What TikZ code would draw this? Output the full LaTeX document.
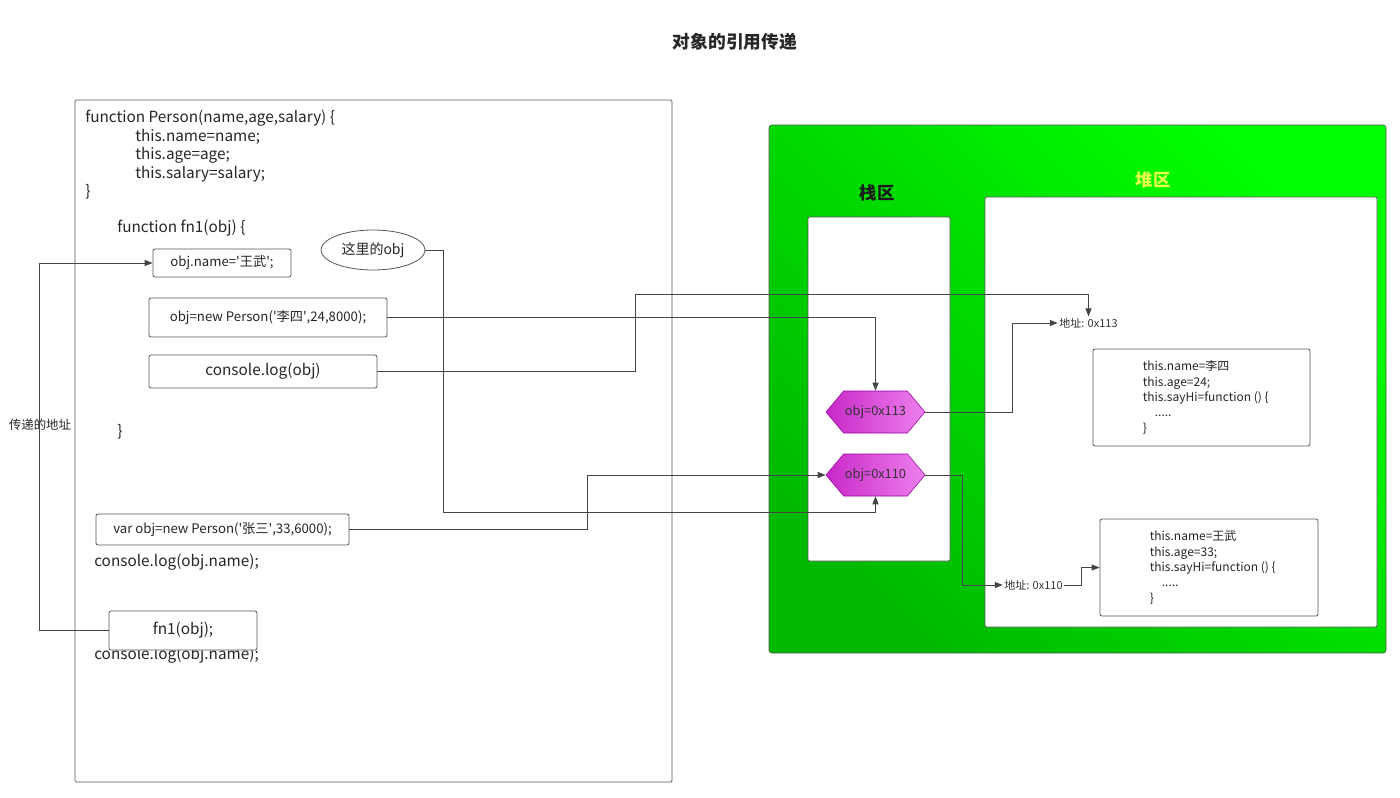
\documentclass[tikz,border=0pt]{standalone}
\usepackage{fontspec}
\setmainfont{Noto Sans CJK SC}
\usetikzlibrary{arrows.meta, positioning, shapes.geometric, shapes.symbols}

\definecolor{linegray}{HTML}{444444}
\definecolor{boxgray}{HTML}{555555}
\definecolor{zonedark}{RGB}{0,185,0}
\definecolor{zonelight}{RGB}{0,255,0}
\definecolor{heaptitle}{RGB}{228,255,70}
\definecolor{hexdark}{RGB}{200,40,200}
\definecolor{hexlight}{RGB}{238,128,238}
\definecolor{hexedge}{RGB}{150,0,160}

\begin{document}
\begin{tikzpicture}[
    x=0.75pt, y=-0.75pt,
    font=\fontsize{11.5}{14}\selectfont,
    code/.style={anchor=west, inner sep=0pt, text=black!85},
    box/.style={draw=boxgray, fill=white, rounded corners=1.5pt, inner sep=0pt,
                line width=0.6pt, text=black!85},
    smalltxt/.style={font=\fontsize{9.9}{12}\selectfont},
    zone/.style={draw=boxgray, fill=white, rounded corners=1pt, line width=0.6pt},
    ptr/.style={shape=signal, signal to=east and west, signal pointer angle=100,
                draw=hexedge, left color=hexdark, right color=hexlight,
                minimum width=74.25pt, minimum height=31.5pt, inner sep=0pt,
                font=\fontsize{9.6}{12}\selectfont, text=black!80},
    addr/.style={inner sep=1pt, font=\fontsize{8.25}{10}\selectfont, text=black!80},
    memo/.style={anchor=west, align=left, inner sep=0pt,
                 font=\fontsize{9}{11.45}\selectfont, text=black!85},
    arr/.style={-{Triangle[length=6pt, width=4.5pt]}, draw=linegray, line width=0.75pt}
]

\fill[white] (0,0) rectangle (1400,797);
\useasboundingbox (0,0) rectangle (1400,797);

\node[font=\fontsize{13.3}{16}\selectfont\bfseries, text=black!85] (title) at (735,42) {对象的引用传递};

% code side
\draw[zone] (75,100) rectangle (672,782);

\node[code, anchor=north west, align=left, font=\fontsize{11.5}{13.9}\selectfont] (personfn) at (85,110)
    {function Person(name,age,salary) \{\\
     \hspace*{37.5pt}this.name=name;\\
     \hspace*{37.5pt}this.age=age;\\
     \hspace*{37.5pt}this.salary=salary;\\
     \}};
\node[code] (fn1head) at (117,228) {function fn1(obj) \{};
\node[code] (fn1end) at (117,432) {\}};
\node[code] (logname1) at (94,562) {console.log(obj.name);};
\node[code] (logname2) at (94,655) {console.log(obj.name);};

\node[box, smalltxt, minimum width=103.5pt, minimum height=21pt] (setname) at (222,263)
    {obj.name=\textquotesingle 王武\textquotesingle;};
\node[box, smalltxt, minimum width=178.5pt, minimum height=29.25pt] (newli) at (268,317.5)
    {obj=new Person(\textquotesingle 李四\textquotesingle,24,8000);};
\node[box, minimum width=171pt, minimum height=24.75pt] (logobj) at (263,371.5) {console.log(obj)};
\node[box, smalltxt, minimum width=189.75pt, minimum height=23.25pt] (newzhang) at (222.5,529.5)
    {var obj=new Person(\textquotesingle 张三\textquotesingle,33,6000);};
\node[box, minimum width=111pt, minimum height=29.25pt] (callfn) at (183,630.5) {fn1(obj);};
\node[draw=boxgray, ellipse, fill=white, line width=0.6pt, minimum width=78pt, minimum height=30pt,
      inner sep=0pt, font=\fontsize{10.5}{12}\selectfont, text=black!85] (thisobj) at (373,250) {这里的obj};

\node[font=\fontsize{9.3}{11}\selectfont, text=black!85] (passaddr) at (40,425) {传递的地址};

% memory side
\shade[draw=boxgray, rounded corners=2pt, bottom color=zonedark, top color=zonelight, shading angle=-45]
    (769,125) rectangle (1386,653);
\draw[zone] (808,217) rectangle (950,561);
\draw[zone] (985,197) rectangle (1377,627);
\node[font=\fontsize{13}{15}\selectfont\bfseries, text=black!90] (stacklbl) at (877,193) {栈区};
\node[font=\fontsize{13}{15}\selectfont\bfseries, text=heaptitle] (heaplbl) at (1153,180) {堆区};

\node[ptr] (ref113) at (875.5,412) {obj=0x113};
\node[ptr] (ref110) at (875.5,475) {obj=0x110};

\node[addr] (addr113) at (1088.5,323) {地址: 0x113};
\node[addr] (addr110) at (1033.5,585) {地址: 0x110};

\node[box, minimum width=162.75pt, minimum height=72.75pt] (objli) at (1201.5,397.5) {};
\node[memo, right=37.5pt of objli.west] (objlitext)
    {this.name=李四\\this.age=24;\\this.sayHi=function () \{\\\hspace*{1em}.....\\\}};
\node[box, minimum width=163.5pt, minimum height=72.75pt] (objwang) at (1209,567.5) {};
\node[memo, right=37.5pt of objwang.west] (objwangtext)
    {this.name=王武\\this.age=33;\\this.sayHi=function () \{\\\hspace*{1em}.....\\\}};

% references
\draw[arr] (callfn.west) -- ++(-69,0) |- (setname.west);
\draw[arr] (newli.east) -| (ref113.north);
\draw[arr] (logobj.east) -- ++(258,0) -- ++(0,-77.5) -| (addr113.north);
\draw[arr] (thisobj.east) -- ++(18,0) -- ++(0,262) -| (ref110.south);
\draw[arr] (newzhang.east) -- ++(238,0) |- (ref110.west);
\draw[arr] (ref113.east) -- ++(87,0) |- (addr113.west);
\draw[arr] (ref110.east) -- ++(37,0) |- (addr110.west);
\draw[arr] (addr110.east) -- ++(17,0) |- (objwang.west);
\end{tikzpicture}
\end{document}
